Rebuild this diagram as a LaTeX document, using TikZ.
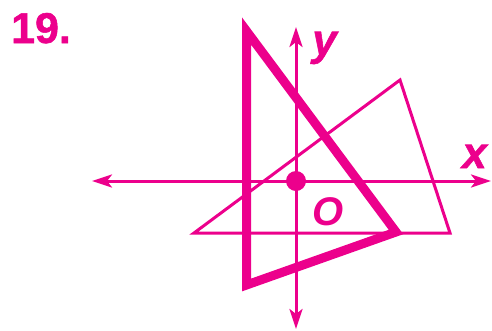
\documentclass[tikz,border=0pt]{standalone}
\usepackage{fontspec}
\setmainfont{Liberation Sans}
\newfontfamily\blk[FakeBold=1.2,BoldFont={* Bold},ItalicFont={* Italic},BoldItalicFont={* Bold Italic}]{Liberation Sans}
\usetikzlibrary{arrows.meta}
\definecolor{mag}{RGB}{236,0,140}
\begin{document}
\begin{tikzpicture}[x=1pt,y=-1pt,
  axis/.style={draw=mag,line width=3pt,-{Stealth[length=20pt,width=13pt,inset=5pt]}},
  thin/.style={draw=mag,line width=3pt,line join=miter},
  thick/.style={draw=mag,line width=9pt,line join=miter},
  lbl/.style={text=mag,inner sep=0pt,anchor=base,font=\fontsize{44}{44}\selectfont\blk\bfseries\itshape}]
\useasboundingbox (0,0) rectangle (492,330);
% axes
\coordinate (O) at (296,181);
\coordinate (xl) at (92,181);
\coordinate (xr) at (491,181);
\coordinate (yt) at (296,27);
\coordinate (yb) at (296,329);
\draw[axis] (O) -- (xl);
\draw[axis] (O) -- (xr);
\draw[axis] (O) -- (yt);
\draw[axis] (O) -- (yb);
% thin triangle
\coordinate (t1) at (194,233);
\coordinate (t2) at (400,80);
\coordinate (t3) at (450,233);
\draw[thin] (t1) -- (t2) -- (t3) -- cycle;
% thick triangle
\coordinate (k1) at (246.5,31);
\coordinate (k2) at (396,232);
\coordinate (k3) at (246.5,285);
\draw[thick] (k1) -- (k2) -- (k3) -- cycle;
% origin dot
\fill[mag] (O) circle (10);
% labels
\node[lbl] (lx) at (474.5,168) {x};
\node[lbl] (ly) at (324.5,55) {y};
\node[lbl,font=\fontsize{40}{40}\selectfont\bfseries\itshape] (lo) at (328,225) {O};
\node[lbl,font=\fontsize{43}{43}\selectfont\blk\bfseries] (num) at (41,43) {19.};
\end{tikzpicture}
\end{document}
